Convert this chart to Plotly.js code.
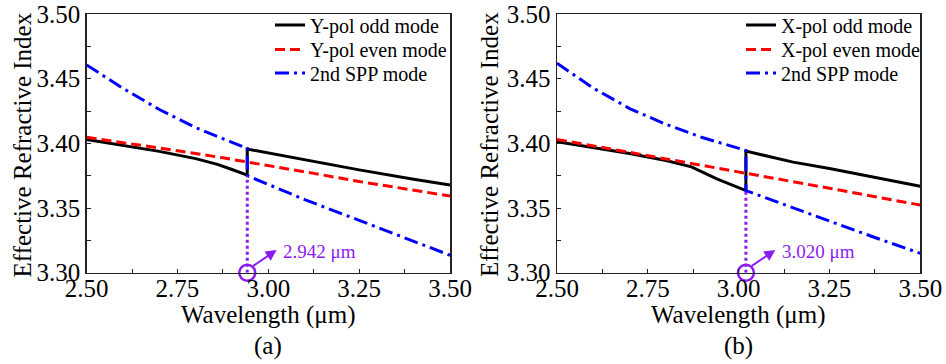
<!DOCTYPE html>
<html>
<head>
<meta charset="utf-8">
<script src="https://cdn.plot.ly/plotly-3.0.1.min.js"></script>
<style>html,body{margin:0;padding:0;background:#fff;}#chart{width:946px;height:364px;}</style>
</head>
<body>
<div id="chart"></div>
<script>
// ---------- Data: panel (a), Y-pol ----------
var crossA = 2.942;
var wlOddA  = [2.50, 2.60, 2.70, 2.80, 2.86, 2.90, 2.942, 2.942, 3.00, 3.10, 3.25, 3.40, 3.50];
var oddA    = [3.4030, 3.3985, 3.3938, 3.3882, 3.3838, 3.3798, 3.3755, 3.3956, 3.3925, 3.3872, 3.3795, 3.3722, 3.3678];
var wlEvenA = [2.50, 2.625, 2.75, 2.875, 3.00, 3.125, 3.25, 3.375, 3.50];
var evenA   = [3.4047, 3.3996, 3.3943, 3.3888, 3.3830, 3.3768, 3.3705, 3.3648, 3.3593];
var wlSppA  = [2.50, 2.60, 2.70, 2.80, 2.90, 2.942, 2.942, 3.00, 3.10, 3.25, 3.40, 3.50];
var sppA    = [3.4606, 3.4425, 3.4262, 3.4122, 3.4008, 3.3962, 3.3750, 3.3680, 3.3565, 3.3405, 3.3245, 3.3135];
var labelA  = "2.942 μm";
var nameOddA = "Y-pol odd mode", nameEvenA = "Y-pol even mode", nameSpp = "2nd SPP mode";

// ---------- Data: panel (b), X-pol ----------
var crossB = 3.020;
var wlOddB  = [2.50, 2.60, 2.70, 2.80, 2.87, 2.94, 3.02, 3.02, 3.08, 3.15, 3.25, 3.375, 3.50];
var oddB    = [3.4013, 3.3968, 3.3922, 3.3868, 3.3818, 3.3725, 3.3635, 3.3940, 3.3900, 3.3855, 3.3805, 3.3735, 3.3668];
var wlEvenB = [2.50, 2.75, 3.00, 3.25, 3.50];
var evenB   = [3.4031, 3.3906, 3.3782, 3.3653, 3.3523];
var wlSppB  = [2.50, 2.60, 2.70, 2.80, 2.90, 3.02, 3.02, 3.10, 3.25, 3.375, 3.50];
var sppB    = [3.4619, 3.4427, 3.4269, 3.4147, 3.4045, 3.3945, 3.3635, 3.3552, 3.3396, 3.3272, 3.3150];
var labelB  = "3.020 μm";
var nameOddB = "X-pol odd mode", nameEvenB = "X-pol even mode";

var xTicks = [2.50, 2.75, 3.00, 3.25, 3.50];
var yTicks = [3.30, 3.35, 3.40, 3.45, 3.50];
var xTitle = "Wavelength (μm)";
var yTitle = "Effective Refractive Index";
var panelLabels = ["(a)", "(b)"];

// ---------- Styling ----------
var FONT = "'Liberation Serif', 'Times New Roman', serif";
var PURPLE = "#8B1CF0";
var LW = 3;
var blackLine = {color: "#000", width: LW};
var redLine = {color: "#FF0000", width: LW, dash: "10px,5px"};
var blueLine = {color: "#0000FF", width: LW, dash: "14px,5px,3px,5px"};

function lowerAt(xs, ys, c){
  var m = Infinity;
  for (var i=0;i<xs.length;i++) if (xs[i]===c && ys[i]<m) m = ys[i];
  return m;
}

function panelTraces(xa, ya, legs, wlO, o, wlE, e, wlS, s, nO, nE, cross){
  var bottom = Math.min(lowerAt(wlO,o,cross), lowerAt(wlS,s,cross));
  return [
    {x: wlO, y: o, xaxis: xa, yaxis: ya, mode: "lines", name: nO, line: blackLine, legend: legs[0]},
    {x: wlE, y: e, xaxis: xa, yaxis: ya, mode: "lines", name: nE, line: redLine, legend: legs[1]},
    {x: wlS, y: s, xaxis: xa, yaxis: ya, mode: "lines", name: nameSpp, line: blueLine, legend: legs[2]},
    {x: [cross, cross], y: [yTicks[0], bottom], xaxis: xa, yaxis: ya, mode: "lines", showlegend: false,
     line: {color: PURPLE, width: 3, dash: "dot"}, hoverinfo: "skip"},
    {x: [cross], y: [yTicks[0]], xaxis: xa, yaxis: ya, mode: "markers", showlegend: false, cliponaxis: false,
     marker: {symbol: "circle-open", size: 16, color: PURPLE, line: {width: 2.5, color: PURPLE}}, hoverinfo: "skip"}
  ];
}

// empty helper traces that only make the label-only overlay axes exist
function labelAxisTrace(xa, ya){
  return {x: [], y: [], xaxis: xa, yaxis: ya, mode: "lines", showlegend: false, hoverinfo: "skip"};
}

var data = [].concat(
  panelTraces("x", "y", ["legend", "legend2", "legend3"], wlOddA, oddA, wlEvenA, evenA, wlSppA, sppA, nameOddA, nameEvenA, crossA),
  panelTraces("x2", "y2", ["legend4", "legend5", "legend6"], wlOddB, oddB, wlEvenB, evenB, wlSppB, sppB, nameOddB, nameEvenB, crossB),
  [labelAxisTrace("x3", "y"), labelAxisTrace("x4", "y2")]
);

var yDom = [0.2508, 0.9615];
var xDomA = [0.0916, 0.4757], xDomB = [0.5888, 0.9728];
var labelLift = 2 / 364;

function xAxis(dom, anchor){
  return {domain: dom, anchor: anchor, range: [2.5, 3.5], tickvals: xTicks, tickformat: ".2f",
    ticks: "inside", ticklen: 4, tickwidth: 1, tickcolor: "#222", showticklabels: false,
    minor: {ticks: "inside", ticklen: 4, dtick: 0.125, tick0: 2.5, tickcolor: "#222", showgrid: false},
    showline: true, linecolor: "#222", linewidth: 1.5, mirror: true, showgrid: false, zeroline: false};
}
function xLabelAxis(over, dom){
  return {overlaying: over, domain: dom, anchor: "free", position: yDom[0] + labelLift, side: "bottom",
    range: [2.5, 3.5], tickvals: xTicks, tickformat: ".2f", ticks: "", showline: false,
    showgrid: false, zeroline: false, tickfont: {family: FONT, size: 25, color: "#000"}};
}
function yAxis(dom, anchor){
  return {domain: dom, anchor: anchor, range: [3.30, 3.50], tickvals: yTicks, tickformat: ".2f",
    ticks: "inside", ticklen: 4, tickwidth: 1, tickcolor: "#222",
    minor: {ticks: "inside", ticklen: 4, dtick: 0.025, tick0: 3.3, tickcolor: "#222", showgrid: false},
    showline: true, linecolor: "#222", linewidth: 1.5, mirror: true, showgrid: false, zeroline: false,
    tickfont: {family: FONT, size: 25, color: "#000"}};
}

function annots(xa, ya, cross, label){
  return [
    {xref: xa, yref: ya, x: cross + 0.081, y: 3.3176, ax: -25, ay: 17, axref: "pixel", ayref: "pixel",
     text: "", showarrow: true, arrowhead: 2, arrowsize: 1.1, arrowwidth: 2, arrowcolor: PURPLE},
    {xref: xa, yref: ya, x: cross + 0.094, y: 3.3162, xanchor: "left", yanchor: "middle", showarrow: false,
     text: label, font: {family: FONT, size: 19, color: PURPLE}}
  ];
}
function frameTexts(dom, label, yTitleX){
  var cx = (dom[0] + dom[1]) / 2;
  return [
    {xref: "paper", yref: "paper", x: cx, y: 1 - 315/364, xanchor: "center", yanchor: "middle",
     showarrow: false, text: xTitle, font: {family: FONT, size: 25, color: "#000"}},
    {xref: "paper", yref: "paper", x: cx, y: 1 - 346/364, xanchor: "center", yanchor: "middle",
     showarrow: false, text: label, font: {family: FONT, size: 25, color: "#000"}},
    {xref: "paper", yref: "paper", x: yTitleX / 946, y: 1 - 145/364, xanchor: "center", yanchor: "middle",
     textangle: -90, showarrow: false, text: yTitle, font: {family: FONT, size: 25, color: "#000"}}
  ];
}

function legendBox(xpx, ypx){
  return {x: xpx/946, y: 1 - ypx/364, xanchor: "left", yanchor: "middle", bgcolor: "rgba(0,0,0,0)",
          font: {family: FONT, size: 20, color: "#000"}};
}
var legRowsY = [25, 49.5, 73];

var layout = {
  width: 946, height: 364,
  margin: {l: 0, r: 0, t: 0, b: 0},
  paper_bgcolor: "#fff", plot_bgcolor: "#fff",
  showlegend: true,
  xaxis: xAxis(xDomA, "y"),
  yaxis: yAxis(yDom, "x"),
  xaxis2: xAxis(xDomB, "y2"),
  yaxis2: yAxis(yDom, "x2"),
  xaxis3: xLabelAxis("x", xDomA),
  xaxis4: xLabelAxis("x2", xDomB),
  legend: legendBox(270, legRowsY[0]),
  legend2: legendBox(270, legRowsY[1]),
  legend3: legendBox(270, legRowsY[2]),
  legend4: legendBox(741, legRowsY[0]),
  legend5: legendBox(741, legRowsY[1]),
  legend6: legendBox(741, legRowsY[2]),
  annotations: [].concat(
    annots("x", "y", crossA, labelA),
    annots("x2", "y2", crossB, labelB),
    frameTexts(xDomA, panelLabels[0], 22.5),
    frameTexts(xDomB, panelLabels[1], 490)
  )
};

Plotly.newPlot("chart", data, layout, {displayModeBar: false, staticPlot: true});
</script>
</body>
</html>
